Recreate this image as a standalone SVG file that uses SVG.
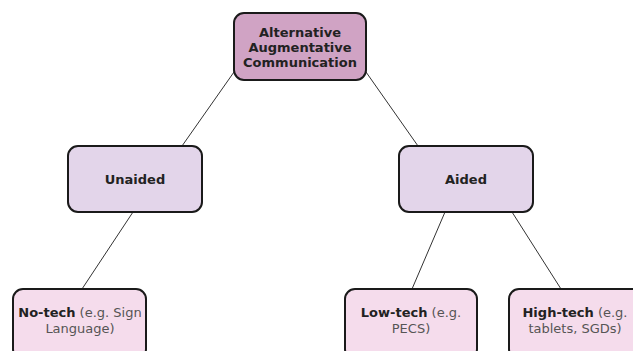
<svg xmlns="http://www.w3.org/2000/svg" width="633" height="351" viewBox="0 0 633 351">
<style>
.node{stroke:#1a1a1a;stroke-width:2}
.t{font-family:"DejaVu Sans",Verdana,sans-serif;font-size:13px;text-anchor:middle;fill:#222}
.b{font-weight:bold}
.n{fill:#555}
.edge{stroke:#333;stroke-width:1;fill:none}
</style>
<rect width="633" height="351" fill="#ffffff"/>
<g id="connectors">
<line class="edge" x1="234" y1="72" x2="182" y2="146"/>
<line class="edge" x1="366" y1="72" x2="418" y2="146"/>
<line class="edge" x1="133" y1="212" x2="82" y2="289"/>
<line class="edge" x1="445" y1="212" x2="412" y2="289"/>
<line class="edge" x1="512" y1="212" x2="561" y2="289"/>
</g>
<g id="root">
<rect class="node" x="234" y="13" width="132" height="67" rx="10" fill="#d0a3c4"/>
<text class="t b" x="300" y="37">Alternative</text>
<text class="t b" x="300" y="52">Augmentative</text>
<text class="t b" x="300" y="67">Communication</text>
</g>
<g id="unaided">
<rect class="node" x="68" y="146" width="134" height="66" rx="10" fill="#e3d5ea"/>
<text class="t b" x="135" y="184">Unaided</text>
</g>
<g id="aided">
<rect class="node" x="399" y="146" width="134" height="66" rx="10" fill="#e3d5ea"/>
<text class="t b" x="466" y="184">Aided</text>
</g>
<g id="notech">
<rect class="node" x="13" y="289" width="133" height="70" rx="10" fill="#f5dcec"/>
<text class="t" x="80" y="317"><tspan class="b">No-tech</tspan><tspan class="n"> (e.g. Sign</tspan></text>
<text class="t n" x="80" y="333">Language)</text>
</g>
<g id="lowtech">
<rect class="node" x="345" y="289" width="132" height="70" rx="10" fill="#f5dcec"/>
<text class="t" x="411" y="317"><tspan class="b">Low-tech</tspan><tspan class="n"> (e.g.</tspan></text>
<text class="t n" x="411" y="333">PECS)</text>
</g>
<g id="hightech">
<rect class="node" x="509" y="289" width="133" height="70" rx="10" fill="#f5dcec"/>
<text class="t" x="575" y="317"><tspan class="b">High-tech</tspan><tspan class="n"> (e.g.</tspan></text>
<text class="t n" x="575" y="333">tablets, SGDs)</text>
</g>
</svg>
